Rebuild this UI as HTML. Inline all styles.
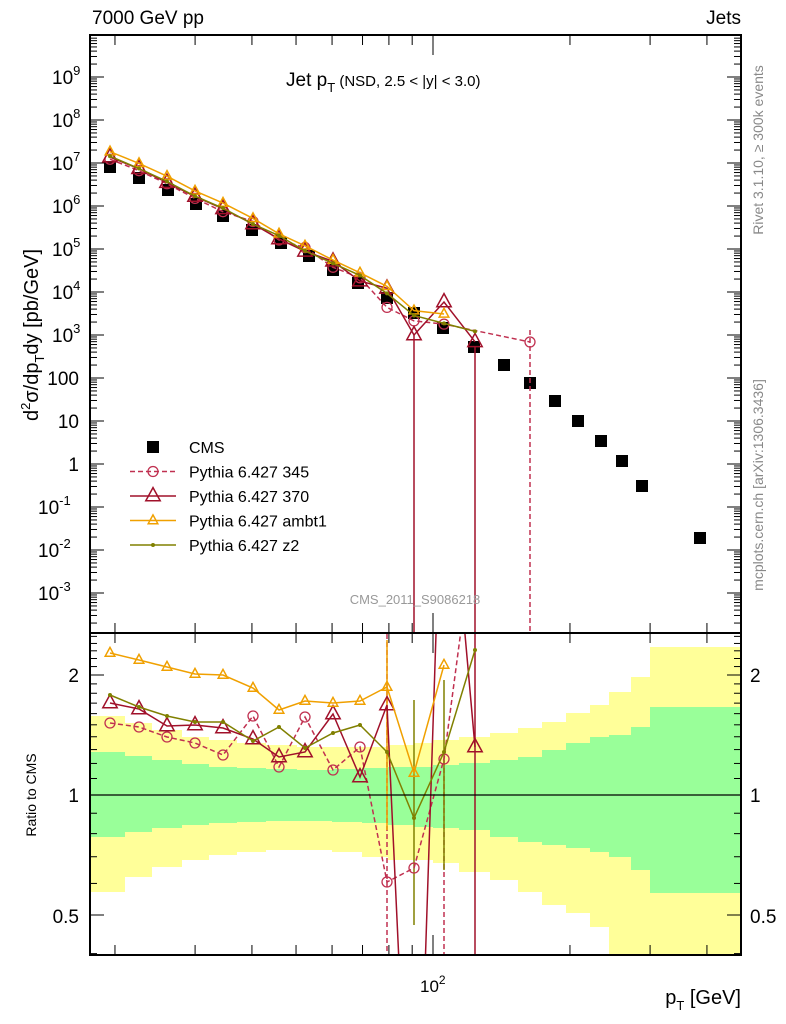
<!DOCTYPE html>
<html><head><meta charset="utf-8"><style>
html,body{margin:0;padding:0;background:#fff;width:786px;height:1024px;overflow:hidden}
svg{font-family:"Liberation Sans",sans-serif;display:block}
</style></head><body>
<svg id="s" width="786" height="1024" xmlns="http://www.w3.org/2000/svg">
<g id="bands"></g>
<g id="g"></g>
<rect x="90" y="35" width="651" height="598" fill="none" stroke="#000" stroke-width="2"/>
<rect x="90" y="633" width="651" height="322" fill="none" stroke="#000" stroke-width="2"/>
<line x1="90" y1="795" x2="741" y2="795" stroke="#000" stroke-width="1.3"/>
<text x="92" y="24" font-size="19">7000 GeV pp</text>
<text x="741" y="24" font-size="19" text-anchor="end">Jets</text>
<text x="286" y="86" font-size="19">Jet p<tspan font-size="13" dy="6">T</tspan><tspan dy="-6" font-size="15"> (NSD, 2.5 &lt; |y| &lt; 3.0)</tspan></text>
<text x="415" y="604" font-size="13" fill="#999" text-anchor="middle">CMS_2011_S9086218</text>
<text transform="translate(763,150) rotate(-90)" font-size="14" fill="#888" text-anchor="middle">Rivet 3.1.10, ≥ 300k events</text>
<text transform="translate(763,485) rotate(-90)" font-size="14" fill="#888" text-anchor="middle">mcplots.cern.ch [arXiv:1306.3436]</text>
<text transform="translate(38,335) rotate(-90)" font-size="20" text-anchor="middle">d<tspan font-size="13" dy="-8">2</tspan><tspan dy="8">σ/dp</tspan><tspan font-size="13" dy="6">T</tspan><tspan dy="-6">dy [pb/GeV]</tspan></text>
<text transform="translate(36,795) rotate(-90)" font-size="14" text-anchor="middle">Ratio to CMS</text>
<text x="741" y="1004" font-size="20" text-anchor="end">p<tspan font-size="13" dy="6">T</tspan><tspan dy="-6"> [GeV]</tspan></text>
<text x="420" y="992" font-size="17">10<tspan font-size="12" dy="-8">2</tspan></text>
</svg>
<script>
const NS="http://www.w3.org/2000/svg";
const g=document.getElementById('g'),B=document.getElementById('bands');
function el(p,t,a,txt){const e=document.createElementNS(NS,t);for(const k in a)e.setAttribute(k,a[k]);if(txt!==undefined)e.textContent=txt;p.appendChild(e);return e;}
const X=v=>433+455*Math.log10(v/100);
const edges=[91,125,152,182,209,237,266,297,332,362,388,414,433,459,490,518,542,566,590,609,631,650,740];
const bd=[[716,752,837,892],[723,756,832,877],[730,760,828,867],[737,764,825,860],[740,767,823,855],[743,768,822,852],[745,769,821,850],[747,770,821,850],[747,769,822,852],[747,768,823,857],[745,767,825,860],[743,767,827,860],[740,765,828,863],[737,763,830,872],[733,760,837,880],[728,757,842,892],[722,750,845,905],[713,743,848,913],[705,737,852,927],[692,735,857,955],[677,727,870,955],[647,707,893,955]];
bd.forEach((b,i)=>{const x=edges[i],w=edges[i+1]-x;
el(B,'rect',{x,y:b[0],width:w,height:b[3]-b[0],fill:'#ffff99'});
el(B,'rect',{x,y:b[1],width:w,height:b[2]-b[1],fill:'#99ff99'});});
for(let k=-4;k<=10;k++){for(let m=1;m<10;m++){const y=464-43*(k+Math.log10(m));if(y<36||y>632)continue;const L=m==1?14:7;
el(g,'line',{x1:90,y1:y,x2:90+L,y2:y,stroke:'#000'});el(g,'line',{x1:741,y1:y,x2:741-L,y2:y,stroke:'#000'});}}
for(const k of [9,8,7,6,5,4,3]){const t=el(g,'text',{x:52,y:464-43*k+7,'font-size':19},'10');el(t,'tspan',{'font-size':13,dy:-9},String(k));}
[["100",378],["10",421],["1",464]].forEach(([s,y])=>el(g,'text',{x:79,y:y+7,'font-size':19,'text-anchor':'end'},s));
for(const k of [-1,-2,-3]){const t=el(g,'text',{x:38,y:464-43*k+7,'font-size':19},'10');el(t,'tspan',{'font-size':13,dy:-9},String(k));}
const tx=[20,30,40,50,60,70,80,90,100,200,300,400];
tx.forEach(v=>{const x=X(v),L=v==100?20:10;
[[35,1],[633,-1],[633,1],[955,-1]].forEach(([y,d])=>el(g,'line',{x1:x,y1:y,x2:x,y2:y+d*L,stroke:'#000'}));});
const RY=r=>795-398.6*Math.log10(r);
[0.4,0.5,0.6,0.7,0.8,0.9,1,1.1,1.2,1.3,1.4,1.5,1.6,1.7,1.8,1.9,2,2.1,2.2,2.3,2.4,2.5].forEach(r=>{const y=RY(r);if(y<635||y>954)return;const L=(r==0.5||r==1||r==2)?14:7;
el(g,'line',{x1:90,y1:y,x2:90+L,y2:y,stroke:'#000'});el(g,'line',{x1:741,y1:y,x2:741-L,y2:y,stroke:'#000'});});
[["2",675],["1",795],["0.5",916]].forEach(([s,y])=>{el(g,'text',{x:79,y:y+7,'font-size':19,'text-anchor':'end'},s);el(g,'text',{x:750,y:y+7,'font-size':19},s);});
const cx=[110,139,168,196,223,252,281,309,333,358,387,414,443,474,504,530,555,578,601,622,642,700];
const cy=[167,178,190,204,216,230,243,256,270,283,298,313,328,347,365,383,401,421,441,461,486,538];
const S={
 a:{c:'#f0a000',x:[110,139,167,195,223,253,279,305,333,360,387,414,444],y:[653,660,667,674,675,688,710,701,703,701,687,773,665],m:'tri',s:4,dash:''},
 z:{c:'#808000',x:[110,139,167,195,223,253,279,305,333,360,387,414,444,475],y:[695,707,716,722,722,741,727,748,733,725,752,818,752,650],m:'dot',s:2,dash:''},
 r:{c:'#a0102a',x:[110,139,167,195,223,253,279,305,333,360,387,414,444,475],y:[703,709,726,725,728,739,757,752,714,777,705,1300,400,747],m:'tri',s:6,dash:'',
    rp:[[110,703],[139,709],[167,726],[195,725],[223,728],[253,739],[279,757],[305,752],[333,714],[360,777],[387,705],[399.8,1000],[422,1000],[438,600],[467,600],[475,747]]},
 p:{c:'#c03050',x:[110,139,167,195,223,253,279,305,333,360,387,414,444,530],y:[723,727,737,743,755,716,767,717,770,747,882,868,759,100],m:'circ',s:5,dash:'5,3',
    rp:[[110,723],[139,727],[167,737],[195,743],[223,755],[253,716],[279,767],[305,717],[333,770],[360,747],[387,882],[414,868],[444,759],[466,600]]}};
// adjust clipped endpoints to keep in page
S.r.rp=[[110,703],[139,709],[167,726],[195,725],[223,728],[253,739],[279,757],[305,752],[333,714],[360,777],[387,705],[398.8,958],[425.4,958],[436.1,631],[464.7,631],[475,747]];
S.p.rp[S.p.rp.length-1]=[460.9,631];
const cyOf=x=>{let b=0,bd=1e9;cx.forEach((v,i)=>{if(Math.abs(v-x)<bd){bd=Math.abs(v-x);b=i;}});return cy[b];};
function mark(p,m,x,y,c,s){if(m=='tri')el(p,'polygon',{points:`${x},${y-s*1.4} ${x-s*1.2},${y+s*0.8} ${x+s*1.2},${y+s*0.8}`,fill:'none',stroke:c,'stroke-width':1.5});
else if(m=='circ')el(p,'circle',{cx:x,cy:y,r:s,fill:'none',stroke:c,'stroke-width':1.3});
else el(p,'circle',{cx:x,cy:y,r:s,fill:c});}
const svg=document.getElementById('s');
const clipM=el(svg,'clipPath',{id:'cm'});el(clipM,'rect',{x:90,y:35,width:651,height:598});
const clipR=el(svg,'clipPath',{id:'cr'});el(clipR,'rect',{x:90,y:634,width:651,height:321});
const gm=el(g,'g',{'clip-path':'url(#cm)'}),gr=el(g,'g',{'clip-path':'url(#cr)'});
cx.forEach((x,i)=>el(gm,'rect',{x:x-6,y:cy[i]-6,width:12,height:12,fill:'#000'}));
el(gm,'line',{x1:414,y1:335,x2:414,y2:633,stroke:'#a0102a','stroke-width':1.5});
el(gm,'line',{x1:475,y1:347,x2:475,y2:633,stroke:'#a0102a','stroke-width':1.5});
el(gm,'line',{x1:530,y1:330,x2:530,y2:633,stroke:'#c03050','stroke-width':1.5,'stroke-dasharray':'5,3'});
el(gr,'line',{x1:475,y1:634,x2:475,y2:955,stroke:'#a0102a','stroke-width':1.5});
el(gr,'line',{x1:387,y1:634,x2:387,y2:955,stroke:'#c03050','stroke-width':1.5,'stroke-dasharray':'5,3'});
el(gr,'line',{x1:444,y1:760,x2:444,y2:955,stroke:'#c03050','stroke-width':1.5,'stroke-dasharray':'5,3'});
el(gr,'line',{x1:387,y1:640,x2:387,y2:830,stroke:'#f0a000','stroke-width':1.5});
el(gr,'line',{x1:414,y1:700,x2:414,y2:925,stroke:'#808000','stroke-width':1.5});
el(gr,'line',{x1:444,y1:680,x2:444,y2:870,stroke:'#808000','stroke-width':1.5});
['p','r','a','z'].forEach(k=>{const d=S[k];
 const pts=d.rp?d.rp.map(p=>p.join(',')).join(' '):d.x.map((x,i)=>x+','+d.y[i]).join(' ');
 el(gr,'polyline',{points:pts,fill:'none',stroke:d.c,'stroke-width':1.5,'stroke-dasharray':d.dash});
 d.x.forEach((x,i)=>{if(d.y[i]>634&&d.y[i]<955)mark(gr,d.m,x,d.y[i],d.c,d.s);});
 const my=d.x.map((x,i)=>{if(k=='p'&&x==530)return 342;if(k=='r'&&x==414)return 335;if(k=='r'&&x==444)return 302;const r=Math.pow(10,(795-d.y[i])/398.6);return cyOf(x)-43*Math.log10(r);});
 el(gm,'polyline',{points:d.x.map((x,i)=>x+','+my[i]).join(' '),fill:'none',stroke:d.c,'stroke-width':1.5,'stroke-dasharray':d.dash});
 d.x.forEach((x,i)=>mark(gm,d.m,x,my[i],d.c,d.s));
});
const lg=[['CMS'],['Pythia 6.427 345','p'],['Pythia 6.427 370','r'],['Pythia 6.427 ambt1','a'],['Pythia 6.427 z2','z']];
lg.forEach((e,i)=>{const y=447+i*24.5;
 if(!e[1])el(g,'rect',{x:147,y:y-6,width:12,height:12,fill:'#000'});
 else{const d=S[e[1]];el(g,'line',{x1:130,y1:y,x2:176,y2:y,stroke:d.c,'stroke-width':1.5,'stroke-dasharray':d.dash});mark(g,d.m,153,y,d.c,d.s);}
 el(g,'text',{x:189,y:y+6,'font-size':16},e[0]);});
</script>
</body></html>
